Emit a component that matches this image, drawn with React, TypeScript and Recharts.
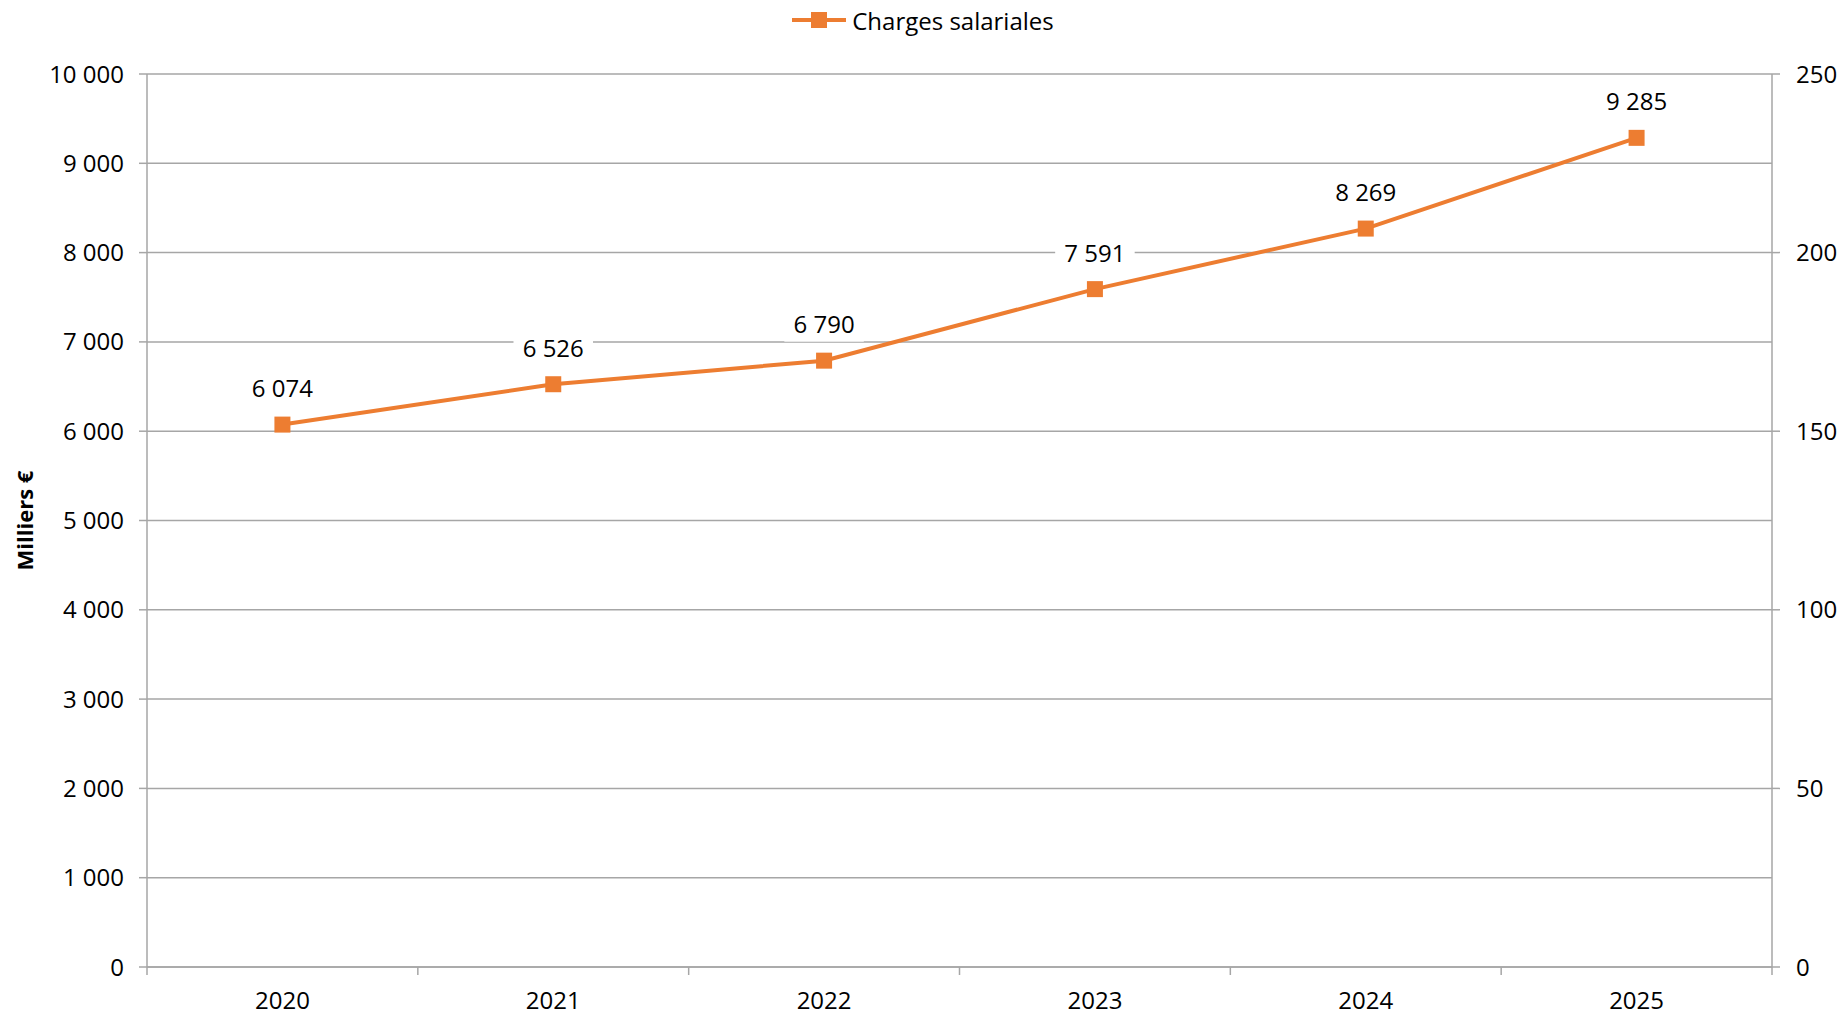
import { LineChart, Line, XAxis, YAxis, CartesianGrid, Legend, LabelList } from 'recharts';

// Chart values
const years = ['2020', '2021', '2022', '2023', '2024', '2025'];
const charges = [6074, 6526, 6790, 7591, 8269, 9285];
const leftTicks = [0, 1000, 2000, 3000, 4000, 5000, 6000, 7000, 8000, 9000, 10000];
const rightTicks = [0, 50, 100, 150, 200, 250];

const data = years.map((year, i) => ({ year, charges: charges[i] }));

const ORANGE = '#ED7D31';
const GRID = '#a6a6a6';
const FONT = '"Open Sans", sans-serif';
const FS = 24;

const PLOT_W = 1846 - 147 - 74;
const HALF_BAND = PLOT_W / years.length / 2;

// thousands separated by a space, like "6 074"
const fmt = (v: number) => String(v).replace(/\B(?=(\d{3})+(?!\d))/g, ' ');

const SquareDot = (props: any) => {
  const { cx, cy } = props;
  if (cx == null || cy == null) return null;
  return <rect x={cx - 8} y={cy - 8} width={16} height={16} fill={ORANGE} />;
};

const ValueLabel = (props: any) => {
  const { x, y, value } = props;
  const text = fmt(value);
  const w = text.length * 13.5 + 12;
  return (
    <g>
      <rect x={x - w / 2} y={y - 51} width={w} height={32} fill="white" />
      <text x={x} y={y - 34} textAnchor="middle" dominantBaseline="middle" fontSize={FS} fontFamily={FONT} fill="#000">
        {text}
      </text>
    </g>
  );
};

// year label + Excel-style tick marks between categories
const YearTick = (props: any) => {
  const { x, y, payload, index, visibleTicksCount } = props;
  const axisY = y - 25;
  const left = x - HALF_BAND;
  const right = x + HALF_BAND;
  return (
    <g>
      <line x1={left} y1={axisY} x2={left} y2={axisY + 8} stroke={GRID} strokeWidth={1.5} />
      {index === visibleTicksCount - 1 && (
        <line x1={right} y1={axisY} x2={right} y2={axisY + 8} stroke={GRID} strokeWidth={1.5} />
      )}
      <text x={x} y={y} dy="0.71em" textAnchor="middle" fontSize={FS} fontFamily={FONT} fill="#000">
        {payload.value}
      </text>
    </g>
  );
};

const LegendContent = () => (
  <div style={{ height: 40, display: 'flex', justifyContent: 'center', alignItems: 'center', fontFamily: FONT, fontSize: FS }}>
    <svg width={54} height={20} style={{ marginRight: 6 }}>
      <line x1={0} y1={10} x2={54} y2={10} stroke={ORANGE} strokeWidth={4} />
      <rect x={19} y={2} width={16} height={16} fill={ORANGE} />
    </svg>
    <span>Charges salariales</span>
  </div>
);

export default function App() {
  return (
    <div style={{ position: 'absolute', left: 0, top: 0, width: 1846, height: 1015, background: 'white' }}>
      <LineChart width={1846} height={1015} data={data} margin={{ top: 34, right: 0, bottom: 0, left: 0 }}>
        <CartesianGrid vertical={false} stroke={GRID} strokeWidth={1.5} yAxisId="left" xAxisId="cat" />
        <Legend verticalAlign="top" align="center" wrapperStyle={{ top: 0 }} content={<LegendContent />} />
        <XAxis
          dataKey="year"
          xAxisId="cat"
          height={48}
          padding={{ left: HALF_BAND, right: HALF_BAND }}
          axisLine={{ stroke: GRID, strokeWidth: 1.5 }}
          tickLine={false}
          tickSize={8}
          tickMargin={17}
          tick={<YearTick />}
          interval={0}
        />
        <YAxis
          yAxisId="left"
          width={147}
          domain={[0, 10000]}
          ticks={leftTicks}
          interval={0}
          tickFormatter={fmt}
          axisLine={{ stroke: GRID, strokeWidth: 1.5 }}
          tickLine={{ stroke: GRID, strokeWidth: 1.5 }}
          tickSize={8}
          tickMargin={15}
          tick={{ fontSize: FS, fontFamily: FONT, fill: '#000' }}
          label={{
            value: 'Milliers €',
            angle: -90,
            position: 'insideLeft',
            offset: 25,
            textAnchor: 'middle',
            style: { fontSize: 22, fontWeight: 'bold', fontFamily: FONT, fill: '#000', textAnchor: 'middle' },
          }}
        />
        <YAxis
          yAxisId="right"
          orientation="right"
          width={74}
          domain={[0, 250]}
          allowDataOverflow
          ticks={rightTicks}
          interval={0}
          axisLine={{ stroke: GRID, strokeWidth: 1.5 }}
          tickLine={{ stroke: GRID, strokeWidth: 1.5 }}
          tickSize={8}
          tickMargin={16}
          tick={{ fontSize: FS, fontFamily: FONT, fill: '#000' }}
        />
        {/* hidden series so the secondary axis gets drawn */}
        <Line
          xAxisId="cat"
          yAxisId="right"
          dataKey="charges"
          stroke="none"
          dot={false}
          activeDot={false}
          legendType="none"
          isAnimationActive={false}
        />
        <Line
          xAxisId="cat"
          yAxisId="left"
          type="linear"
          dataKey="charges"
          name="Charges salariales"
          stroke={ORANGE}
          strokeWidth={4}
          dot={<SquareDot />}
          activeDot={false}
          isAnimationActive={false}
        >
          <LabelList dataKey="charges" content={<ValueLabel />} />
        </Line>
      </LineChart>
    </div>
  );
}
